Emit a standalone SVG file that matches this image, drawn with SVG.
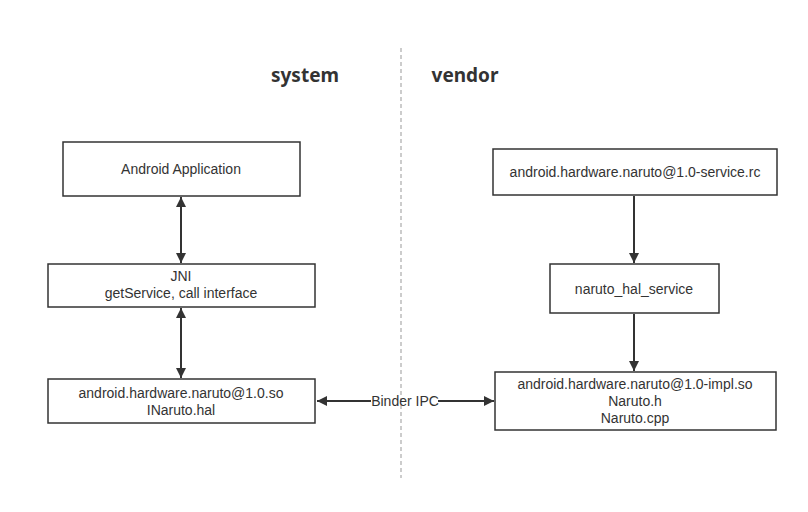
<svg xmlns="http://www.w3.org/2000/svg" width="808" height="512" viewBox="0 0 808 512">
<style>
.box{fill:#fff;stroke:#333;stroke-width:1.5}
.t{font-family:"Liberation Sans",Arial,sans-serif;font-size:14px;fill:#333;text-anchor:middle}
.h{font-family:"Noto Sans","Liberation Sans",sans-serif;font-size:19px;font-weight:bold;fill:#333;text-anchor:middle}
.c{stroke:#333;stroke-width:2;fill:none}
</style>
<defs>
<marker id="a" viewBox="0 0 10 10" refX="10" refY="5" markerWidth="5" markerHeight="5" orient="auto-start-reverse" markerUnits="strokeWidth">
<path d="M0,0 L10,5 L0,10 z" fill="#333"/>
</marker>
</defs>
<rect width="808" height="512" fill="#fff"/>
<line x1="401" y1="48" x2="401" y2="478" stroke="#999" stroke-width="1" stroke-dasharray="4,3"/>
<text class="h" x="305" y="82">system</text>
<text class="h" x="465" y="82">vendor</text>
<g id="connectors">
<line class="c" x1="181" y1="197" x2="181" y2="263" marker-start="url(#a)" marker-end="url(#a)"/>
<line class="c" x1="181" y1="308" x2="181" y2="378" marker-start="url(#a)" marker-end="url(#a)"/>
<line class="c" x1="634" y1="196" x2="634" y2="263" marker-end="url(#a)"/>
<line class="c" x1="634" y1="314" x2="634" y2="371" marker-end="url(#a)"/>
<line class="c" x1="317" y1="401" x2="371" y2="401" marker-start="url(#a)"/>
<line class="c" x1="438" y1="401" x2="494" y2="401" marker-end="url(#a)"/>
<text class="t" x="405" y="406">Binder IPC</text>
</g>
<g id="app">
<rect class="box" x="63" y="142" width="237" height="54"/>
<text class="t" x="181" y="174">Android Application</text>
</g>
<g id="jni">
<rect class="box" x="48" y="264" width="267" height="43"/>
<text class="t" x="181" y="281">JNI</text>
<text class="t" x="181" y="298">getService, call interface</text>
</g>
<g id="so">
<rect class="box" x="48" y="379" width="267" height="44"/>
<text class="t" x="181" y="398">android.hardware.naruto@1.0.so</text>
<text class="t" x="181" y="415">INaruto.hal</text>
</g>
<g id="rc">
<rect class="box" x="493" y="149" width="284" height="46"/>
<text class="t" x="635" y="177">android.hardware.naruto@1.0-service.rc</text>
</g>
<g id="svc">
<rect class="box" x="550" y="264" width="169" height="49"/>
<text class="t" x="634" y="294">naruto_hal_service</text>
</g>
<g id="impl">
<rect class="box" x="495" y="372" width="281" height="58"/>
<text class="t" x="635" y="389">android.hardware.naruto@1.0-impl.so</text>
<text class="t" x="635" y="406">Naruto.h</text>
<text class="t" x="635" y="423">Naruto.cpp</text>
</g>
</svg>
